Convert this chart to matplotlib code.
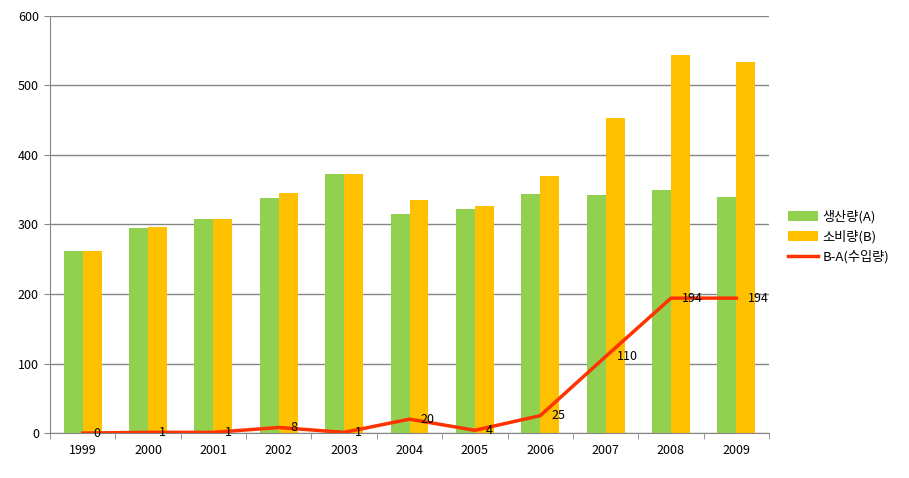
import numpy as np
import matplotlib.pyplot as plt
from matplotlib.ticker import FixedLocator

plt.rcParams['font.family'] = ['Noto Sans CJK KR', 'DejaVu Sans']

years = ['1999', '2000', '2001', '2002', '2003', '2004', '2005', '2006', '2007', '2008', '2009']
production = [262, 295, 308, 338, 372, 315, 322, 344, 343, 350, 340]
consumption = [262, 296, 308, 345, 373, 335, 326, 369, 453, 544, 534]
imports = [0, 1, 1, 8, 1, 20, 4, 25, 110, 194, 194]

fig = plt.figure(figsize=(9.09, 4.78), dpi=100)
ax = fig.add_axes([0.055, 0.094, 0.791, 0.873])

x = np.arange(len(years))
w = 0.29
b1 = ax.bar(x - w / 2, production, w, color='#92D050', label='생산량(A)', zorder=2)
b2 = ax.bar(x + w / 2, consumption, w, color='#FFC000', label='소비량(B)', zorder=2)
ln, = ax.plot(x, imports, color='#FF3300', lw=2.5, label='B-A(수입량)', zorder=3)

for xi, v in zip(x, imports):
    ax.annotate(str(v), (xi, v), xytext=(8, 0), textcoords='offset points',
                va='center', ha='left', fontsize=9, zorder=4)

ax.set_xlim(-0.5, len(years) - 0.5)
ax.set_ylim(0, 600)
ax.set_yticks(range(0, 601, 100))
ax.yaxis.grid(True, color='#868686', lw=1)
ax.set_axisbelow(True)

ax.set_xticks(x)
ax.set_xticklabels(years)
ax.xaxis.set_minor_locator(FixedLocator(np.arange(-0.5, len(years), 1)))
ax.tick_params(axis='x', which='major', length=0, pad=8, labelsize=9)
ax.tick_params(axis='x', which='minor', length=4, color='#868686')
ax.tick_params(axis='y', length=4, color='#868686', labelsize=9, pad=4)

for s in ['top', 'right']:
    ax.spines[s].set_visible(False)
for s in ['left', 'bottom']:
    ax.spines[s].set_color('#868686')

ax.legend(handles=[b1, b2, ln], loc='center left', bbox_to_anchor=(1.01, 0.47),
          frameon=False, fontsize=9.5, handlelength=2.3, labelspacing=0.5,
          handletextpad=0.3)

fig.savefig('out.png', dpi=100)
